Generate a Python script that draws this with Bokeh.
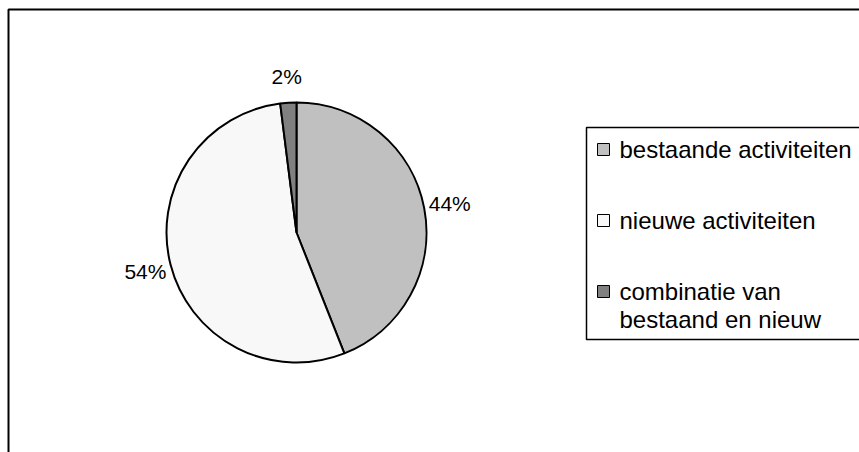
import numpy as np
from bokeh.plotting import figure
from bokeh.models import Range1d, ColumnDataSource
from bokeh.core.properties import value
from bokeh.embed import file_html
from bokeh.resources import INLINE

categories = ["bestaande activiteiten", "nieuwe activiteiten", "combinatie van\nbestaand en nieuw"]
shares = [44, 54, 2]
pct_labels = ["44%", "54%", "2%"]
colors = ["#C0C0C0", "#F8F8F8", "#808080"]

W, H = 859, 452
FONT = value("Liberation Sans")

p = figure(width=W, height=H, x_range=Range1d(0, W), y_range=Range1d(0, H),
           output_backend="svg", toolbar_location=None, min_border=0)
p.axis.visible = False
p.grid.visible = False
p.outline_line_color = None
p.background_fill_color = "white"
p.border_fill_color = "white"

# outer chart border (right/bottom run off the page)
p.quad(left=8, right=W + 50, top=443, bottom=-50, fill_color=None,
       line_color="black", line_width=2)

# pie
cx, cy, r = 296, 220, 130
frac = np.array(shares, dtype=float) / sum(shares)
cum = np.concatenate([[0.0], np.cumsum(frac)])
start = np.pi / 2 - 2 * np.pi * cum[:-1]
end = np.pi / 2 - 2 * np.pi * cum[1:]
src = ColumnDataSource(dict(s=end, e=start, c=colors))
p.wedge(x=cx, y=cy, radius=r, start_angle="s", end_angle="e", fill_color="c",
        line_color="black", line_width=2, source=src)

mid = (start + end) / 2
rl = 156
lsrc = ColumnDataSource(dict(x=cx + rl * np.cos(mid), y=cy + rl * np.sin(mid), t=pct_labels))
p.text(x="x", y="y", text="t", source=lsrc, text_font=FONT, text_font_size="21px",
       text_align="center", text_baseline="middle", text_color="black")

# legend
p.quad(left=586, right=W + 50, top=325, bottom=113, fill_color="white",
       line_color="black", line_width=1.5)
leg_top, row_step, line_step = 303, 71, 28
sq_x, tx_x = 603, 619
sy, tx, ty = [], [], []
for i, cat in enumerate(categories):
    y0 = leg_top - i * row_step
    sy.append(y0)
    for j, line in enumerate(cat.split("\n")):
        tx.append(line)
        ty.append(y0 - j * line_step)
p.scatter(x=[sq_x] * len(categories), y=sy, marker="square", size=12,
          fill_color=colors, line_color="black", line_width=1)
p.text(x=[tx_x] * len(tx), y=ty, text=tx, text_font=FONT, text_font_size="24px",
       text_align="left", text_baseline="middle", text_color="black")

open("out.html", "w").write(file_html(p, INLINE))
